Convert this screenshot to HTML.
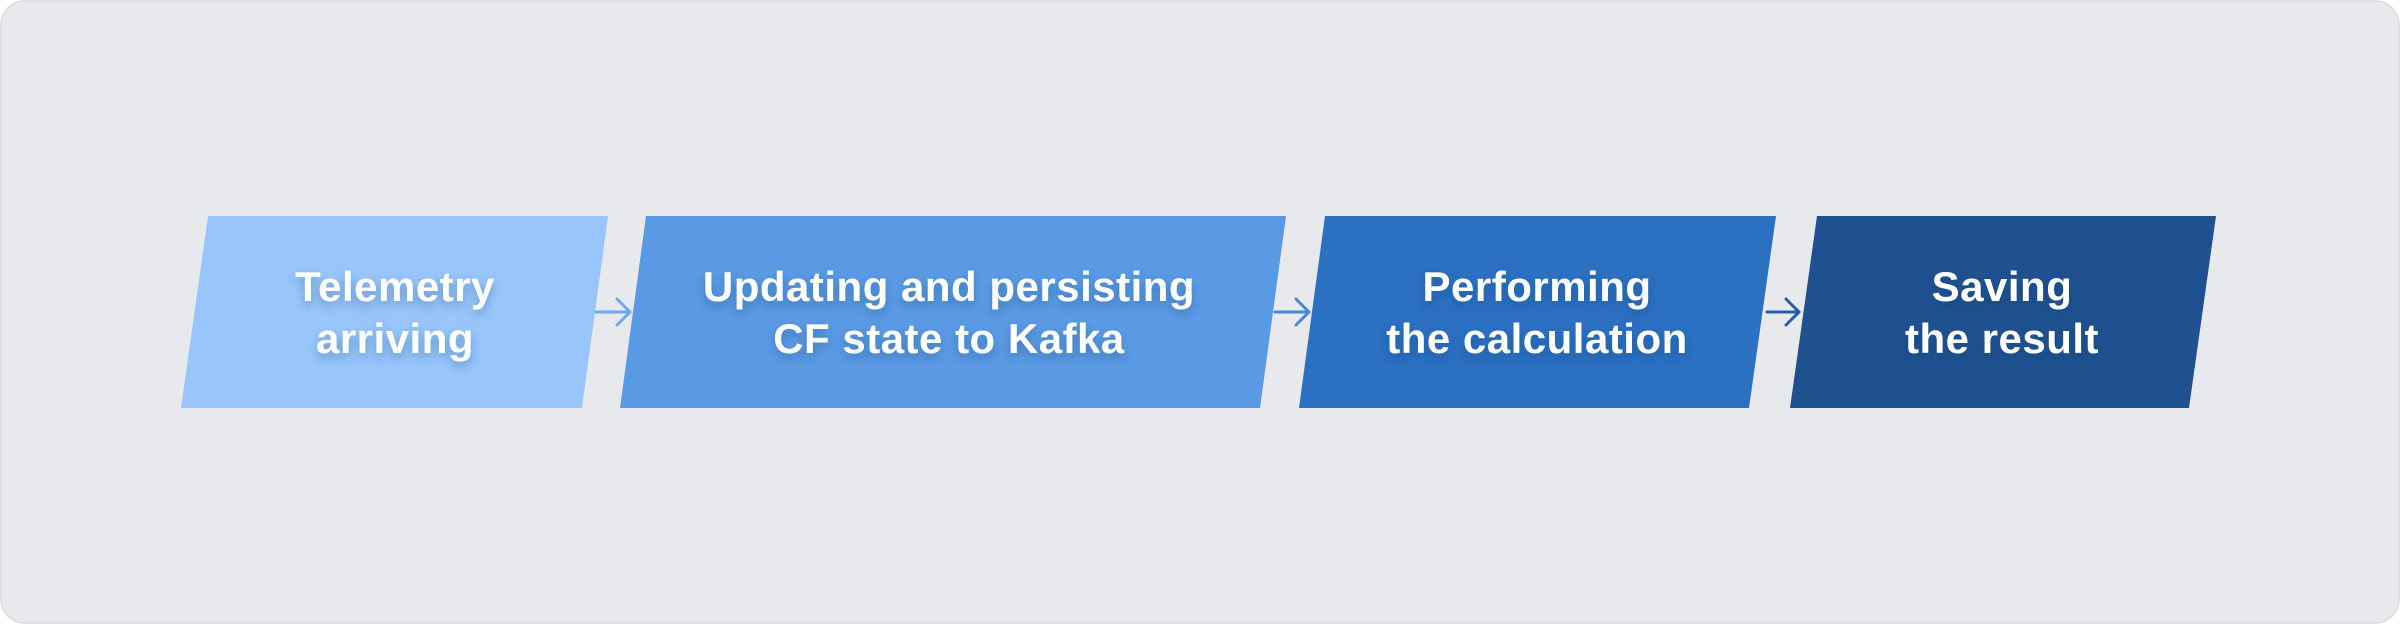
<!DOCTYPE html>
<html><head><style>
html,body{margin:0;padding:0;background:#fff;}
svg{display:block;}
text{font-family:"Liberation Sans",sans-serif;font-weight:bold;font-size:42px;fill:#fff;text-anchor:middle;letter-spacing:0.5px;}
</style></head><body>
<svg width="2400" height="624" viewBox="0 0 2400 624">
<defs>
<filter id="sh" x="-20%" y="-20%" width="140%" height="160%"><feDropShadow dx="0" dy="5" stdDeviation="5" flood-color="#1a3a6a" flood-opacity="0.35"/></filter>
</defs>
<rect x="1" y="1" width="2398" height="622" rx="24" fill="#e7e9ec" stroke="#dcdfe3" stroke-width="2"/>
<polygon points="208,216 608,216 582,408 181,408" fill="#98c6fc"/>
<polygon points="646,216 1286,216 1260,408 620,408" fill="#5a9ae4"/>
<polygon points="1325,216 1776,216 1749,408 1299,408" fill="#2c70c2"/>
<polygon points="1817,216 2216,216 2189,408 1790,408" fill="#1f5190"/>
<g stroke-width="3" fill="none" stroke-linecap="round" stroke-linejoin="round">
<g stroke="#6fa9ef"><line x1="596" y1="312" x2="630" y2="312"/><polyline points="617,299 630,312 617,325"/></g>
<g stroke="#4687d8"><line x1="1275" y1="312" x2="1309" y2="312"/><polyline points="1296,299 1309,312 1296,325"/></g>
<g stroke="#235fa8"><line x1="1767" y1="312" x2="1799" y2="312"/><polyline points="1786,299 1799,312 1786,325"/></g>
</g>
<g filter="url(#sh)">
<text x="395" y="301">Telemetry</text>
<text x="395" y="353">arriving</text>
<text x="949" y="301">Updating and persisting</text>
<text x="949" y="353">CF state to Kafka</text>
<text x="1537" y="301">Performing</text>
<text x="1537" y="353">the calculation</text>
<text x="2002" y="301">Saving</text>
<text x="2002" y="353">the result</text>
</g>
</svg>
</body></html>
